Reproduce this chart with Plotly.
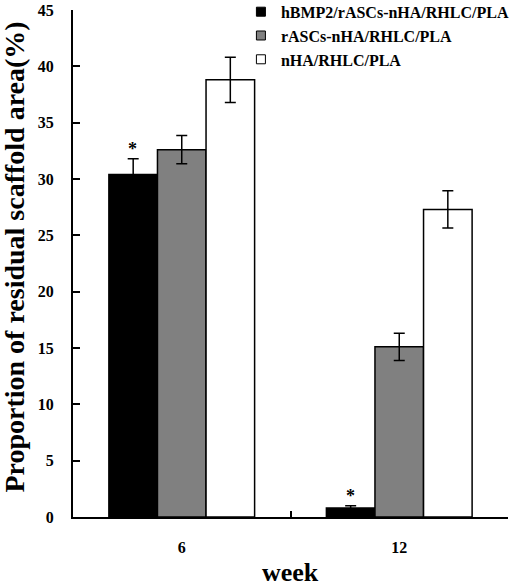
import plotly.graph_objects as go

weeks = ["6", "12"]
series_names = ["hBMP2/rASCs-nHA/RHLC/PLA", "rASCs-nHA/RHLC/PLA", "nHA/RHLC/PLA"]
series_colors = ["#000000", "#808080", "#ffffff"]
values_hbmp2 = [30.4, 0.8]
values_rascs = [32.6, 15.1]
values_nha = [38.8, 27.3]
errors_hbmp2 = [1.4, 0.2]
errors_rascs = [1.25, 1.2]
errors_nha = [2.0, 1.65]
y_ticks = [0, 5, 10, 15, 20, 25, 30, 35, 40, 45]

FONT = "Liberation Serif"

fig = go.Figure()
for name, color, vals, errs in zip(series_names, series_colors,
                                   [values_hbmp2, values_rascs, values_nha],
                                   [errors_hbmp2, errors_rascs, errors_nha]):
    fig.add_trace(go.Bar(
        x=weeks, y=vals, name=name, showlegend=False,
        marker=dict(color=color, line=dict(color="black", width=1.5)),
        error_y=dict(type="data", array=errs, visible=True, color="black",
                     thickness=1.5, width=5.5),
    ))
# legend-only entries with small square swatches
for name, color in zip(series_names, series_colors):
    fig.add_trace(go.Scatter(
        x=[None], y=[None], mode="markers", name=f"<b>{name}</b>",
        marker=dict(symbol="square", size=9, color=color, line=dict(color="black", width=1)),
    ))

# significance asterisks above the first series (category index positions)
for i, (v, e) in enumerate(zip(values_hbmp2, errors_hbmp2)):
    fig.add_annotation(x=i, y=v + e, text="<b>*</b>", showarrow=False,
                       xref="x", yref="y", yanchor="bottom", xshift=-49, yshift=-2,
                       font=dict(family=FONT, size=18, color="black"))

# axis titles as annotations for exact placement
fig.add_annotation(x=-0.134, y=0.513, xref="paper", yref="paper",
                   xanchor="center", yanchor="middle", textangle=-90, showarrow=False,
                   text="<b>Proportion of residual scaffold area(%)</b>",
                   font=dict(family=FONT, size=28, color="black"))
fig.add_annotation(x=0.5, y=-0.1085, xref="paper", yref="paper",
                   xanchor="center", yanchor="middle", showarrow=False,
                   text="<b>week</b>",
                   font=dict(family=FONT, size=26, color="black"))

fig.update_layout(
    width=511, height=587,
    margin=dict(l=73, r=3, t=10, b=70, autoexpand=False),
    paper_bgcolor="white", plot_bgcolor="white",
    barmode="group", bargap=0.33, bargroupgap=0,
    font=dict(family=FONT, color="black"),
    legend=dict(x=0.386, y=1.030, xanchor="left", yanchor="top",
                font=dict(family=FONT, size=16, color="black"),
                bgcolor="rgba(0,0,0,0)", tracegroupgap=0, itemwidth=30),
    showlegend=True,
)
fig.update_xaxes(
    type="category", range=[-0.5, 1.5], automargin=False,
    showline=True, linecolor="black", linewidth=2,
    ticks="inside", tickson="boundaries", ticklen=6, tickwidth=2, tickcolor="black",
    tickvals=weeks, ticktext=[f"<b>{w}</b>" for w in weeks],
    ticklabelstandoff=15,
    tickfont=dict(family=FONT, size=16, color="black"),
    showgrid=False, mirror=False,
)
fig.update_yaxes(
    range=[0, 45], automargin=False,
    tickvals=y_ticks, ticktext=[f"<b>{t}</b>" for t in y_ticks],
    showline=True, linecolor="black", linewidth=2,
    ticks="inside", ticklen=7, tickwidth=2, tickcolor="black",
    ticklabelstandoff=14,
    tickfont=dict(family=FONT, size=16, color="black"),
    showgrid=False, zeroline=False,
)

# remove the browser's default 8px body margin so the figure fills the window
fig.write_html("out.html", config={"displayModeBar": False},
               post_script="document.body.style.margin='0';document.body.style.overflow='hidden';")
